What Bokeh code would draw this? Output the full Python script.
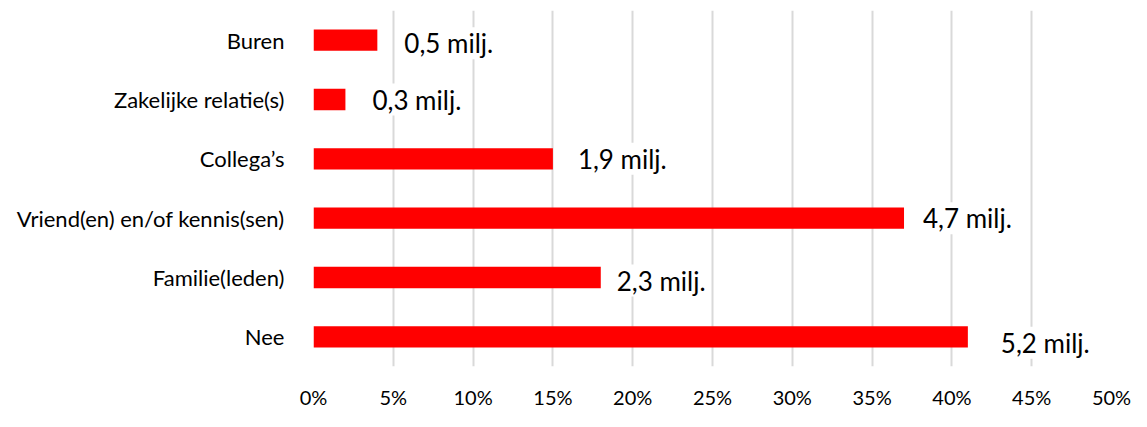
from bokeh.plotting import figure
from bokeh.models import ColumnDataSource, LabelSet, NumeralTickFormatter, FixedTicker, Range1d
from bokeh.core.properties import value
from bokeh.embed import file_html
from bokeh.resources import INLINE

categories = ["Nee", "Familie(leden)", "Vriend(en) en/of kennis(sen)", "Collega\u2019s",
              "Zakelijke relatie(s)", "Buren"]
shares = [0.41, 0.18, 0.37, 0.15, 0.02, 0.04]
labels = ["5,2 milj.", "2,3 milj.", "4,7 milj.", "1,9 milj.", "0,3 milj.", "0,5 milj."]
ticks = [0, 0.05, 0.10, 0.15, 0.20, 0.25, 0.30, 0.35, 0.40, 0.45, 0.50]

# label placement styling (pixels)
label_dx = [33, 16, 19, 25, 27, 27]
label_dy = [-6, -3, 0, 0, 0, -3]

src = ColumnDataSource(dict(cat=categories, val=shares, lab=labels, dx=label_dx, dy=label_dy))

FONT = "Lato"

p = figure(width=1131, height=411, y_range=categories, x_range=Range1d(0, 0.5),
           output_backend="svg", toolbar_location=None,
           min_border_left=313, min_border_right=20, min_border_top=10, min_border_bottom=36)
p.outline_line_color = None
p.background_fill_color = "white"

p.hbar(y="cat", right="val", left=0, height=0.36, source=src,
       fill_color="#ff0000", line_color=None)

ls = LabelSet(x="val", y="cat", text="lab", x_offset="dx", y_offset="dy", source=src,
              text_font=value(FONT), text_font_size="26px", text_color="#000000",
              text_baseline="middle", background_fill_color="white")
p.add_layout(ls)

p.xaxis.ticker = FixedTicker(ticks=ticks)
p.xaxis.formatter = NumeralTickFormatter(format="0%")
p.xaxis.axis_line_color = None
p.xaxis.major_tick_line_color = None
p.xaxis.minor_tick_line_color = None
p.xaxis.major_label_standoff = 12
p.xaxis.major_label_text_font = FONT
p.xaxis.major_label_text_font_size = "20px"
p.xaxis.major_label_text_color = "#000000"

p.yaxis.axis_line_color = None
p.yaxis.major_tick_line_color = None
p.yaxis.minor_tick_line_color = None
p.yaxis.major_label_standoff = 23
p.yaxis.major_label_text_font = FONT
p.yaxis.major_label_text_font_size = "22px"
p.yaxis.major_label_text_color = "#000000"

p.ygrid.grid_line_color = None
p.xgrid.grid_line_color = "#d9d9d9"
p.xgrid.grid_line_width = 2

open("out.html", "w").write(file_html(p, INLINE))
